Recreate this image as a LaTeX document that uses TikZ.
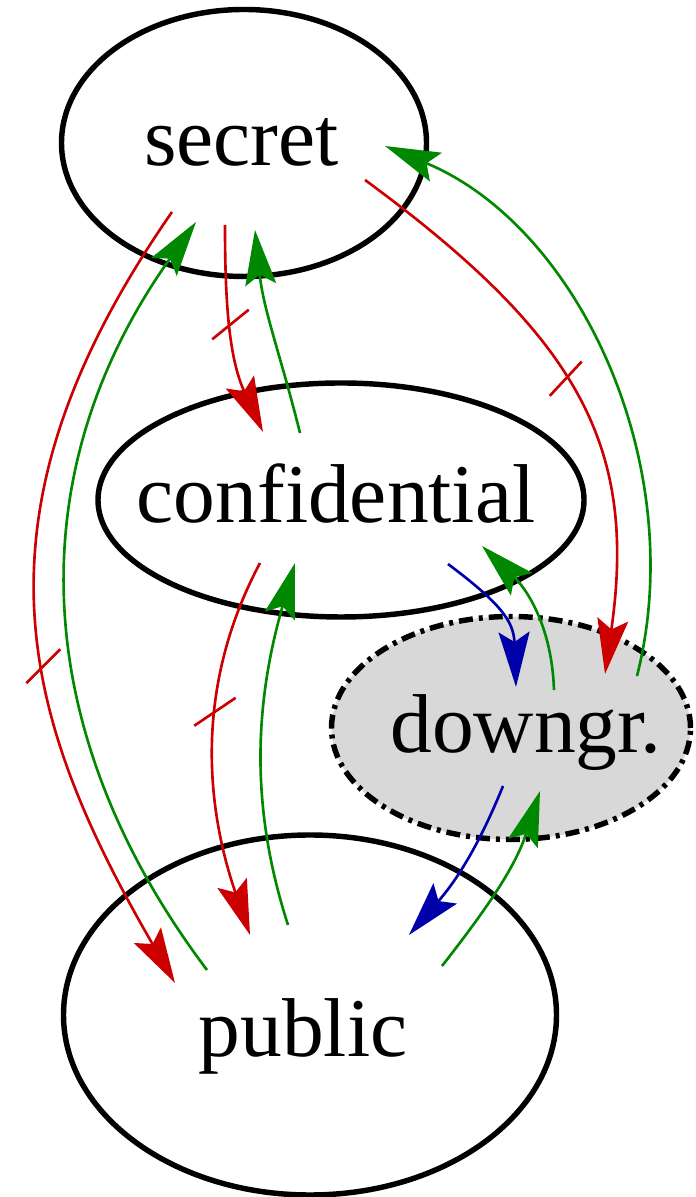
\documentclass[tikz,border=0pt]{standalone}
\usepackage{fontspec}
\setmainfont{Liberation Serif}
\usetikzlibrary{arrows.meta}
\definecolor{lvred}{RGB}{204,0,0}
\definecolor{lvgreen}{RGB}{0,136,0}
\definecolor{lvblue}{RGB}{0,0,170}
\definecolor{dgfill}{RGB}{216,216,216}

\begin{document}
\begin{tikzpicture}[x=1cm,y=1cm,
  lbl/.style={font=\fontsize{47.5}{57}\selectfont,inner sep=0pt,anchor=base},
  ring/.style={line width=3.1pt},
  flow/.style={line width=1.5pt,-{Stealth[length=1.1cm,width=0.62cm,inset=0.2cm]}},
  redflow/.style={flow,lvred},
  greenflow/.style={flow,lvgreen},
  blueflow/.style={flow,lvblue},
  tickmark/.style={lvred,line width=1.5pt}]
\useasboundingbox (0,0) rectangle (13.9,23.94);
% levels
\draw[ring,fill=dgfill,dash pattern=on 0.28cm off 0.12cm on 0.08cm off 0.12cm] (10.22,9.38) ellipse [x radius=3.59,y radius=2.23];
\draw[ring] (4.88,21.08) ellipse [x radius=3.65,y radius=2.67];
\draw[ring] (6.82,13.94) ellipse [x radius=4.86,y radius=2.34];
\draw[ring] (6.20,3.64) ellipse [x radius=4.93,y radius=3.60];
\node[lbl] (sec) at (4.83,20.63) {secret};
\node[lbl] (conf) at (6.72,13.48) {confidential};
\node[lbl] (dg) at (10.52,8.89) {downgr.};
\node[lbl] (pub) at (6.06,2.80) {public};
% edge ends
\coordinate (s2c-out) at (4.50,19.44); \coordinate (s2c-in) at (5.26,15.30);
\coordinate (c2s-out) at (6.00,15.28); \coordinate (c2s-in) at (5.10,19.34);
\coordinate (s2p-out) at (3.44,19.70); \coordinate (s2p-in) at (3.50,4.28);
\coordinate (p2s-out) at (4.14,4.54);  \coordinate (p2s-in) at (3.92,19.50);
\coordinate (s2d-out) at (7.30,20.34); \coordinate (s2d-in) at (12.10,10.46);
\coordinate (d2s-out) at (12.74,10.42); \coordinate (d2s-in) at (7.70,21.02);
\coordinate (c2p-out) at (5.20,12.68); \coordinate (c2p-in) at (5.00,5.24);
\coordinate (p2c-out) at (5.76,5.44);  \coordinate (p2c-in) at (5.90,12.68);
\coordinate (c2d-out) at (8.96,12.66); \coordinate (c2d-in) at (10.32,10.20);
\coordinate (d2c-out) at (11.08,10.14); \coordinate (d2c-in) at (9.64,13.02);
\coordinate (d2p-out) at (10.06,8.22); \coordinate (d2p-in) at (8.18,5.24);
\coordinate (p2d-out) at (8.84,4.62);  \coordinate (p2d-in) at (10.80,8.12);
% flows
\draw[redflow] (s2c-out) .. controls (4.50,17.95) and (4.57,16.79) .. coordinate[pos=0.48] (t1) (s2c-in);
\draw[greenflow] (c2s-out) to[out=104,in=-84] (c2s-in);
\draw[redflow] (s2p-out) .. controls (-0.84,13.55) and (0.50,9.48) .. coordinate[pos=0.57] (t2) (s2p-in);
\draw[greenflow] (p2s-out) .. controls (0.65,9.17) and (0.27,14.37) .. (p2s-in);
\draw[redflow] (s2d-out) .. controls (11.60,17.18) and (12.75,15.00) .. coordinate[pos=0.45] (t3) (s2d-in);
\draw[greenflow] (d2s-out) .. controls (13.80,14.60) and (11.60,19.40) .. (d2s-in);
\draw[redflow] (c2p-out) .. controls (3.77,9.99) and (4.22,7.51) .. coordinate[pos=0.38] (t4) (c2p-in);
\draw[greenflow] (p2c-out) .. controls (5.06,7.61) and (5.03,9.66) .. (p2c-in);
\draw[blueflow] (c2d-out) to[out=-37,in=92,looseness=1.2] (c2d-in);
\draw[greenflow] (d2c-out) to[out=92,in=-44] (d2c-in);
\draw[blueflow] (d2p-out) to[out=-112,in=49] (d2p-in);
\draw[greenflow] (p2d-out) to[out=52,in=-108] (p2d-in);
% ticks
\draw[tickmark] (t1) +(219:0.47) -- +(39:0.47);
\draw[tickmark] (t2) +(225:0.48) -- +(45:0.48);
\draw[tickmark] (t3) +(227:0.47) -- +(47:0.47);
\draw[tickmark] (t4) +(214:0.5) -- +(34:0.5);
\end{tikzpicture}
\end{document}
